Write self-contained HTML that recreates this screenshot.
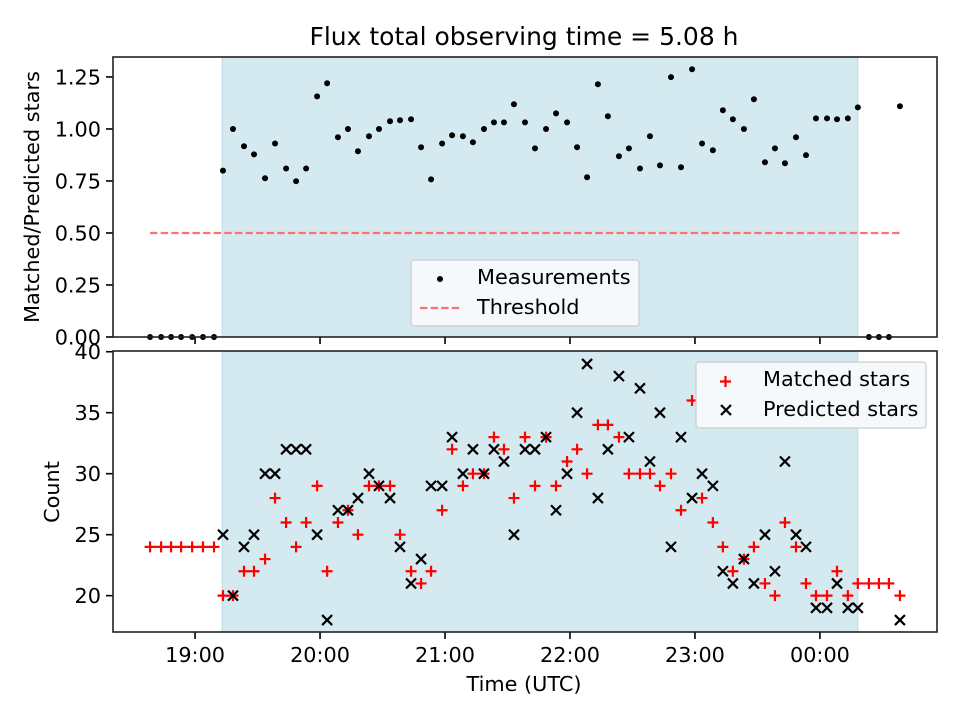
<!DOCTYPE html>
<html><head><meta charset="utf-8"><style>
body{margin:0;background:#fff;}
svg{display:block;font-family:"DejaVu Sans","Liberation Sans",sans-serif;}
</style></head><body>
<svg id="chart" width="960" height="720" viewBox="0 0 960 720"></svg>
<script>
// minutes after 19:00 UTC
const times=[-21.6,-16.3,-11.5,-6.7,-1.4,3.8,9.1,13.4,18.2,23.5,28.3,33.6,38.4,43.7,48.5,53.3,58.6,63.4,68.6,73.4,78.2,83.5,88.3,93.6,98.4,103.7,108.5,113.3,118.6,123.4,128.6,133.4,138.7,143.5,148.3,153.1,158.4,163.2,168.5,173.3,178.6,183.4,188.2,193.4,198.2,203.5,208.3,213.6,218.4,223.2,228.5,233.3,238.6,243.4,248.6,253.4,258.2,263.5,268.3,273.6,278.4,283.2,288.5,293.3,298.1,303.4,308.2,313.4,318.2,323.5,328.3,333.1,338.4];
const ratio=[0,0,0,0,0,0,0,0.80,1.00,0.917,0.878,0.763,0.93,0.81,0.749,0.81,1.157,1.22,0.96,1.00,0.893,0.965,1.00,1.037,1.042,1.047,0.912,0.758,0.93,0.97,0.965,0.936,1.00,1.032,1.032,1.119,1.032,0.907,1.00,1.075,1.032,0.912,0.768,1.215,1.061,0.869,0.907,0.81,0.965,0.825,1.249,0.816,1.287,0.93,0.898,1.09,1.047,1.00,1.143,0.84,0.907,0.835,0.96,0.874,1.051,1.051,1.047,1.051,1.104,0,0,0,1.109];
const matched=[24,24,24,24,24,24,24,20,20,22,22,23,28,26,24,26,29,22,26,27,25,29,29,29,25,22,21,22,27,32,29,30,30,33,32,28,33,29,33,29,31,32,30,34,34,33,30,30,30,29,30,27,36,28,26,24,22,23,24,21,20,26,24,21,20,20,22,20,21,21,21,21,20];
const predicted=[null,null,null,null,null,null,null,25,20,24,25,30,30,32,32,32,25,18,27,27,28,30,29,28,24,21,23,29,29,33,30,32,30,32,31,25,32,32,33,27,30,35,39,28,32,38,33,37,31,35,24,33,28,30,29,22,21,23,21,25,22,31,25,24,19,19,21,19,19,null,null,null,18];
const threshold=0.5;
const shadeStart=13.0, shadeEnd=318.2;
const xTicks=[0,60,120,180,240,300];
const xTickLabels=["19:00","20:00","21:00","22:00","23:00","00:00"];
const topTicks=[0,0.25,0.5,0.75,1.0,1.25];
const botTicks=[20,25,30,35,40];

const NS="http://www.w3.org/2000/svg";
const svg=document.getElementById('chart');
function el(tag,attrs,parent){const e=document.createElementNS(NS,tag);for(const k in attrs)e.setAttribute(k,attrs[k]);(parent||svg).appendChild(e);return e;}
const FS='20.8';
const L=113,R=937;
const xMin=-39.4,xMax=356.2;
const X=t=>L+(t-xMin)/(xMax-xMin)*(R-L);
const T={top:57,bot:337,min:0,max:1.346};
const B={top:351,bot:632,min:17.02,max:40.06};
const Yt=v=>T.bot-(v-T.min)/(T.max-T.min)*(T.bot-T.top);
const Yb=v=>B.bot-(v-B.min)/(B.max-B.min)*(B.bot-B.top);

el('text',{x:524,y:45,'font-size':'25','text-anchor':'middle',}).textContent="Flux total observing time = 5.08 h";

function panel(P,Y,ticks,fmt,name){
  const g=el('g',{});
  el('rect',{x:X(shadeStart),y:P.top,width:X(shadeEnd)-X(shadeStart),height:P.bot-P.top,fill:'#d4eaf0',stroke:'#bcdde6','stroke-width':1,},g);
  ticks.forEach(v=>{
    const y=Y(v);
    el('line',{x1:L-7,x2:L,y1:y,y2:y,stroke:'#000','stroke-width':1.6},g);
    const t=el('text',{x:L-12,y:y+7.5,'font-size':FS,'text-anchor':'end',},g);t.textContent=fmt(v);
  });
  xTicks.forEach((v,i)=>{
    el('line',{x1:X(v),x2:X(v),y1:P.bot,y2:P.bot+7,stroke:'#000','stroke-width':1.6},g);
  });
  return g;
}
const gt=panel(T,Yt,topTicks,v=>v.toFixed(2),'top-panel');
const gb=panel(B,Yb,botTicks,v=>String(v),'bottom-panel');
xTickLabels.forEach((s,i)=>{
  const t=el('text',{x:X(xTicks[i]),y:662,'font-size':FS,'text-anchor':'middle',});t.textContent=s;
});

el('line',{x1:X(times[0]),x2:X(times[times.length-1]),y1:Yt(threshold),y2:Yt(threshold),stroke:'#ff7070','stroke-width':2.2,'stroke-dasharray':'7.4,3.2',},gt);
times.forEach((t,i)=>{
  const c=el('circle',{cx:X(t),cy:Yt(ratio[i]),r:3,fill:'#000'},gt);
  
  
});
times.forEach((t,i)=>{
  const x=X(t);
  if(matched[i]!=null){const y=Yb(matched[i]);
    const p=el('path',{d:`M${x-5.5},${y}H${x+5.5}M${x},${y-5.5}V${y+5.5}`,stroke:'#ff0000','stroke-width':2.2},gb);
    
    }
  if(predicted[i]!=null){const y=Yb(predicted[i]);
    const p=el('path',{d:`M${x-5},${y-5}L${x+5},${y+5}M${x-5},${y+5}L${x+5},${y-5}`,stroke:'#000','stroke-width':2.2},gb);
    
    }
});
el('rect',{x:L,y:T.top,width:R-L,height:T.bot-T.top,fill:'none',stroke:'#222','stroke-width':1.6,});
el('rect',{x:L,y:B.top,width:R-L,height:B.bot-B.top,fill:'none',stroke:'#222','stroke-width':1.6,});
el('text',{x:0,y:0,transform:'translate(39,197) rotate(-90)','font-size':FS,'text-anchor':'middle',}).textContent="Matched/Predicted stars";
el('text',{x:0,y:0,transform:'translate(59,492) rotate(-90)','font-size':FS,'text-anchor':'middle',}).textContent="Count";
el('text',{x:524,y:691,'font-size':FS,'text-anchor':'middle',}).textContent="Time (UTC)";
const lg1=el('g',{});
el('rect',{x:411,y:260,width:228,height:66,rx:3,fill:'#f5f9fb',stroke:'#cccccc','stroke-width':1.2},lg1);
el('circle',{cx:440,cy:279,r:3,fill:'#000',},lg1);
el('text',{x:477,y:284,'font-size':FS,},lg1).textContent="Measurements";
el('line',{x1:420,x2:461,y1:308,y2:308,stroke:'#ff7070','stroke-width':2.2,'stroke-dasharray':'7.4,3.2'},lg1);
el('text',{x:477,y:314,'font-size':FS,},lg1).textContent="Threshold";
const lg2=el('g',{});
el('rect',{x:696,y:362,width:230,height:66,rx:3,fill:'#f5f9fb',stroke:'#cccccc','stroke-width':1.2},lg2);
el('path',{d:'M720,381.5H731M725.5,376V387',stroke:'#ff0000','stroke-width':2.2},lg2);
el('text',{x:763,y:386,'font-size':FS,},lg2).textContent="Matched stars";
el('path',{d:'M721,405L731,415M721,415L731,405',stroke:'#000','stroke-width':2.2},lg2);
el('text',{x:763,y:416,'font-size':FS,},lg2).textContent="Predicted stars";
</script>
</body></html>
